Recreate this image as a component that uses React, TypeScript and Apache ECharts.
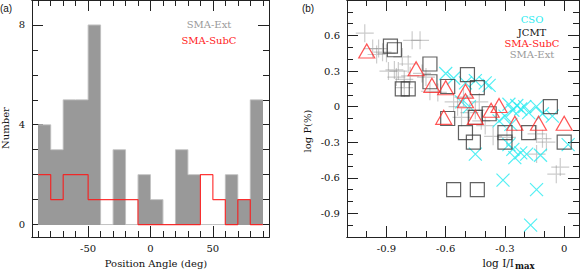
import React, { useEffect, useRef } from "react";
import * as echarts from "echarts";

// ---------- Panel (a): histogram of position angles ----------
const binStarts = [-90, -80, -70, -60, -50, -40, -30, -20, -10, 0, 10, 20, 30, 40, 50, 60, 70, 80];
const binWidth = 10;
const smaExtCounts = [4, 3, 5, 5, 8, 0, 3, 0, 2, 1, 0, 3, 2, 0, 0, 2, 1, 5];
const smaSubCCounts = [2, 1, 2, 2, 1, 1, 1, 1, 0, 0, 0, 0, 0, 2, 1, 0, 1, 0];

const paMajorTicks = [-50, 0, 50];
const paMinorTicks = [-90, -80, -70, -60, -50, -40, -30, -20, -10, 0, 10, 20, 30, 40, 50, 60, 70, 80, 90];
const numMajorTicks = [0, 4, 8];
const numMinorTicks = [0, 1, 2, 3, 4, 5, 6, 7, 8, 9];

// ---------- Panel (b): log P vs log I/Imax ----------
const logIMajorTicks = [-0.9, -0.6, -0.3, 0];
const logIMinorTicks = [-1.0, -0.9, -0.8, -0.7, -0.6, -0.5, -0.4, -0.3, -0.2, -0.1, 0];
const logPMajorTicks = [-0.9, -0.6, -0.3, 0, 0.3, 0.6];
const logPMinorTicks = [-1.0, -0.9, -0.8, -0.7, -0.6, -0.5, -0.4, -0.3, -0.2, -0.1, 0, 0.1, 0.2, 0.3, 0.4, 0.5, 0.6, 0.7, 0.8];

const smaExtPoints = [
  [-1.01, 0.62], [-0.97, 0.49], [-0.94, 0.49], [-0.95, 0.44], [-0.92, 0.46], [-0.9, 0.45],
  [-0.77, 0.56], [-0.73, 0.56], [-0.82, 0.42], [-0.79, 0.36], [-0.89, 0.3], [-0.84, 0.3],
  [-0.86, 0.31], [-0.78, 0.26], [-0.85, 0.25], [-0.81, 0.23], [-0.81, 0.16], [-0.72, 0.28],
  [-0.7, 0.25], [-0.68, 0.13], [-0.64, 0.12], [-0.56, 0.04], [-0.51, 0.08], [-0.52, -0.09],
  [-0.45, -0.03], [-0.43, 0.04], [-0.42, -0.12], [-0.4, -0.16], [-0.36, -0.25], [-0.29, -0.26],
  [-0.14, -0.23], [-0.11, -0.27], [-0.09, -0.3], [-0.14, -0.4], [-0.02, -0.51], [-0.04, -0.57],
  [-0.54, 0.0], [-0.48, -0.05],
];
const csoPoints = [
  [-0.6, 0.28], [-0.56, 0.24], [-0.5, 0.2], [-0.45, 0.22], [-0.4, 0.2], [-0.38, 0.18],
  [-0.52, 0.04], [-0.48, 0.0], [-0.28, 0.02], [-0.26, -0.03], [-0.24, 0.01], [-0.22, -0.02],
  [-0.2, 0.0], [-0.18, -0.05], [-0.14, 0.0], [-0.11, -0.06], [-0.06, -0.08], [-0.3, -0.08],
  [-0.28, -0.32], [-0.26, -0.36], [-0.25, -0.43], [-0.22, -0.39], [-0.19, -0.4], [-0.12, -0.41],
  [0.02, -0.32], [-0.45, -0.4], [-0.31, -0.62], [-0.14, -0.7], [-0.17, -1.0], [-0.33, -0.12],
  [-0.27, -0.15],
];
const jcmtPoints = [
  [-0.88, 0.51], [-0.86, 0.48], [-0.82, 0.15], [-0.79, 0.15], [-0.68, 0.36], [-0.68, 0.21],
  [-0.59, 0.17], [-0.49, 0.27], [-0.44, 0.16], [-0.59, -0.1], [-0.45, -0.09], [-0.5, -0.22],
  [-0.46, -0.3], [-0.38, -0.06], [-0.3, -0.22], [-0.3, -0.3], [-0.18, -0.22], [-0.07, 0.0],
  [0.0, -0.3], [-0.56, -0.7], [-0.44, -0.7],
];
const smaSubCPoints = [
  [-1.0, 0.47], [-0.75, 0.32], [-0.67, 0.18], [-0.6, 0.16], [-0.5, 0.13], [-0.5, 0.05],
  [-0.61, -0.09], [-0.45, -0.09], [-0.33, 0.01], [-0.37, -0.03], [-0.25, -0.14], [-0.13, -0.14],
  [0.0, -0.14],
];

const FONT = "DejaVu Serif";
const AXIS_COLOR = "#222";

function axes(
  dim: "x" | "y",
  gridIndex: number,
  position: string,
  min: number,
  max: number,
  major: number[],
  minor: number[],
  labels: boolean,
  fmt: (v: number) => string
) {
  const base = {
    type: "value",
    gridIndex,
    position,
    min,
    max,
    splitLine: { show: false },
    axisLine: { show: true, onZero: false, lineStyle: { color: AXIS_COLOR, width: 1 } },
  };
  const majorAxis = {
    ...base,
    axisTick: { show: true, inside: true, length: 11, customValues: major, lineStyle: { color: AXIS_COLOR } },
    axisLabel: labels
      ? {
          show: true,
          customValues: major,
          margin: dim === "x" ? 6 : 7,
          fontFamily: FONT,
          fontSize: 10,
          color: "#111",
          formatter: (v: number) => fmt(v),
        }
      : { show: false },
  };
  const minorAxis = {
    ...base,
    axisTick: { show: true, inside: true, length: 6, customValues: minor, lineStyle: { color: AXIS_COLOR } },
    axisLabel: { show: false },
  };
  return [majorAxis, minorAxis];
}

const intFmt = (v: number) => String(Math.round(v));
const decFmt = (v: number) => (Math.abs(v) < 1e-9 ? "0" : v.toFixed(1));

const plusPath = "path://M5 0L5 10M0 5L10 5";
const crossPath = "path://M0 0L10 10M10 0L0 10";

export default function App() {
  const ref = useRef<HTMLDivElement>(null);

  useEffect(() => {
    if (!ref.current) return;
    document.body.style.margin = "0";
    const chart = echarts.init(ref.current, undefined, { renderer: "svg" });

    const histData = binStarts.map((s, i) => [s, s + binWidth, smaExtCounts[i]]);
    const stepData = binStarts.map((s, i) => [s, smaSubCCounts[i]]);
    stepData.push([binStarts[binStarts.length - 1] + binWidth, smaSubCCounts[smaSubCCounts.length - 1]]);
    const extStep = binStarts.map((s, i) => [s, smaExtCounts[i]]);
    extStep.push([binStarts[binStarts.length - 1] + binWidth, smaExtCounts[smaExtCounts.length - 1]]);

    const xAxis = [
      ...axes("x", 0, "bottom", -95, 95, paMajorTicks, paMinorTicks, true, intFmt),
      ...axes("x", 0, "top", -95, 95, paMajorTicks, paMinorTicks, false, intFmt),
      ...axes("x", 1, "bottom", -1.1, 0.075, logIMajorTicks, logIMinorTicks, true, decFmt),
      ...axes("x", 1, "top", -1.1, 0.075, logIMajorTicks, logIMinorTicks, false, decFmt),
    ];
    const yAxis = [
      ...axes("y", 0, "left", -0.5, 9, numMajorTicks, numMinorTicks, true, intFmt),
      ...axes("y", 0, "right", -0.5, 9, numMajorTicks, numMinorTicks, false, intFmt),
      ...axes("y", 1, "left", -1.1, 0.9, logPMajorTicks, logPMinorTicks, true, decFmt),
      ...axes("y", 1, "right", -1.1, 0.9, logPMajorTicks, logPMinorTicks, false, decFmt),
    ];

    const scatter = (name: string, data: number[][], symbol: string, size: any, color: string, width: number) => ({
      type: "scatter",
      name,
      xAxisIndex: 4,
      yAxisIndex: 4,
      data,
      symbol,
      symbolSize: size,
      silent: true,
      itemStyle: { color: "transparent", borderColor: color, borderWidth: width },
      emphasis: { disabled: true },
    });

    const text = (t: string, x: number, y: number, color: string, extra: any = {}) => ({
      type: "text",
      x,
      y,
      silent: true,
      style: {
        text: t,
        fill: color,
        fontFamily: FONT,
        fontSize: 10,
        align: "center",
        verticalAlign: "middle",
        ...extra,
      },
    });

    chart.setOption({
      animation: false,
      grid: [
        { left: 32, top: 0, width: 237, height: 237 },
        { left: 347, top: 0, width: 232, height: 237 },
      ],
      xAxis,
      yAxis,
      series: [
        {
          type: "custom",
          name: "SMA-Ext",
          xAxisIndex: 0,
          yAxisIndex: 0,
          data: histData,
          encode: { x: [0, 1], y: 2 },
          silent: true,
          renderItem: (params: any, api: any) => {
            const p0 = api.coord([api.value(0), api.value(2)]);
            const p1 = api.coord([api.value(1), 0]);
            const x0 = Math.round(p0[0]);
            const x1 = Math.round(p1[0]);
            const y0 = Math.round(p0[1]);
            const y1 = Math.round(p1[1]);
            return {
              type: "rect",
              shape: { x: x0, y: y0, width: x1 - x0, height: y1 - y0 },
              style: { fill: "#999999", stroke: "none" },
            };
          },
        },
        {
          type: "line",
          name: "SMA-Ext outline",
          xAxisIndex: 0,
          yAxisIndex: 0,
          data: extStep,
          step: "end",
          symbol: "none",
          silent: true,
          lineStyle: { color: "#c4c4c4", width: 1 },
        },
        {
          type: "line",
          name: "SMA-SubC",
          xAxisIndex: 0,
          yAxisIndex: 0,
          data: stepData,
          step: "end",
          symbol: "none",
          silent: true,
          lineStyle: { color: "rgba(255,20,20,0.85)", width: 1.2 },
        },
        scatter("SMA-Ext", smaExtPoints, plusPath, 18, "rgba(140,140,140,0.55)", 1.2),
        scatter("CSO", csoPoints, crossPath, 13, "rgb(40,235,240)", 1.2),
        scatter("JCMT", jcmtPoints, "rect", 14, "#3a3a3a", 1.2),
        scatter("SMA-SubC", smaSubCPoints, "triangle", [16, 14], "#ff2a2a", 1.2),
      ],
      graphic: [
        text("(a)", 6, 8, "#111", { fontFamily: "Liberation Sans", fontSize: 10 }),
        text("(b)", 308, 8, "#111", { fontFamily: "Liberation Sans", fontSize: 10 }),
        text("SMA-Ext", 209, 24, "#999999"),
        text("SMA-SubC", 209, 40, "#ff1a1a"),
        text("CSO", 532, 19, "rgb(40,235,240)"),
        text("JCMT", 532, 32, "#111"),
        text("SMA-SubC", 532, 43, "#ff1a1a"),
        text("SMA-Ext", 532, 54, "#999999"),
        text("Number", 5, 128, "#111", {}),
        text("Position Angle (deg)", 156, 263, "#111"),
        text("log P(%)", 307, 131, "#111"),
        text("log I/I", 514, 263, "#111", { align: "right", fontSize: 10.5 }),
        text("max", 515, 265.5, "#111", { align: "left", fontSize: 8.5, fontWeight: "bold" }),
      ].map((g: any) => {
        if (g.style.text === "Number" || g.style.text === "log P(%)") {
          return { ...g, rotation: Math.PI / 2 };
        }
        return g;
      }),
    });

    return () => chart.dispose();
  }, []);

  return <div ref={ref} style={{ width: 585, height: 270 }} />;
}
